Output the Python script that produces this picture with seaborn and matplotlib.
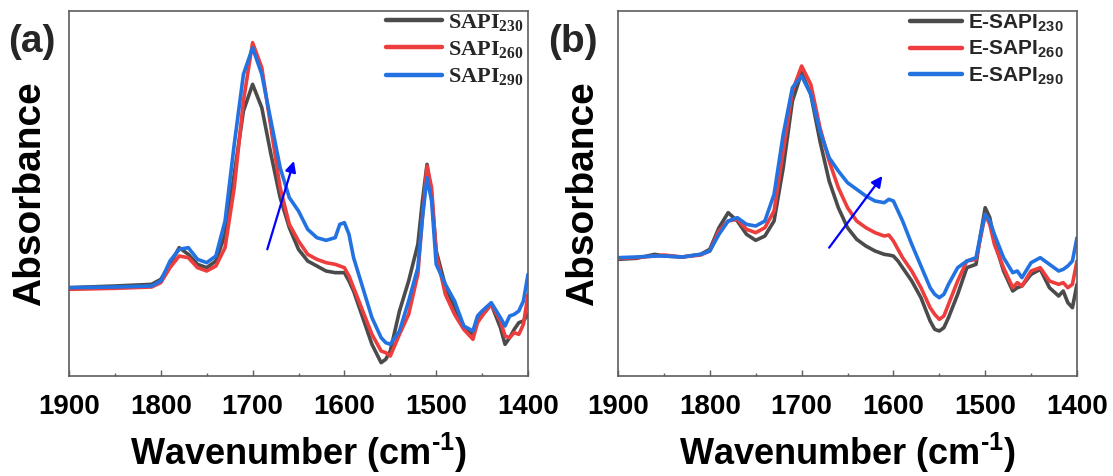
import numpy as np
import pandas as pd
import matplotlib
matplotlib.use("Agg")
import matplotlib.pyplot as plt
from matplotlib.ticker import MultipleLocator
from matplotlib.lines import Line2D
import seaborn as sns

# ---------------- data ----------------
wn_a = [1900, 1850, 1810, 1800, 1790, 1780, 1770, 1760, 1750, 1740, 1730, 1720,
        1710, 1700, 1690, 1680, 1670, 1660, 1650, 1640, 1630, 1620, 1610, 1605,
        1600, 1595, 1590, 1580, 1570, 1560, 1555, 1550, 1540, 1530, 1520, 1515,
        1510, 1505, 1500, 1490, 1480, 1470, 1460, 1455, 1450, 1440, 1430, 1425,
        1420, 1415, 1410, 1405, 1400]

sapi_230 = [26.5, 27.0, 27.5, 29.0, 33.5, 38.5, 36.5, 33.5, 32.5, 34.5, 42.5, 60.5,
            79.5, 87.5, 80.5, 66.5, 53.5, 44.5, 38.0, 34.5, 33.0, 31.5, 31.0, 31.0,
            31.0, 28.5, 25.5, 17.5, 9.5, 4.0, 5.0, 7.5, 19.5, 28.5, 39.5, 52.5,
            63.5, 54.5, 37.5, 27.0, 20.5, 15.0, 12.5, 16.5, 18.5, 21.5, 14.5, 9.5,
            11.5, 14.0, 16.0, 16.5, 18.5]

sapi_260 = [26.0, 26.3, 26.7, 28.0, 32.5, 36.0, 35.5, 32.5, 31.5, 33.0, 38.5, 56.5,
            82.5, 100.0, 92.5, 74.5, 56.5, 45.5, 40.5, 36.5, 35.0, 34.0, 33.5, 33.0,
            32.5, 30.0, 26.5, 19.5, 12.5, 7.5, 7.0, 6.0, 12.5, 18.5, 30.5, 47.5,
            63.0, 56.5, 36.5, 24.5, 18.5, 14.0, 11.0, 16.0, 18.0, 21.5, 16.5, 12.0,
            11.5, 13.0, 12.5, 15.5, 24.5]

sapi_290 = [26.5, 26.7, 27.0, 28.5, 34.5, 38.0, 38.5, 35.0, 34.0, 36.0, 46.5, 69.5,
            90.5, 98.5, 90.5, 76.5, 62.5, 53.5, 49.5, 44.0, 41.5, 40.7, 41.5, 45.5,
            46.0, 42.5, 35.5, 26.5, 17.5, 11.5, 10.0, 9.5, 13.5, 22.5, 32.5, 47.5,
            59.5, 52.5, 33.5, 27.5, 22.5, 15.0, 13.5, 18.0, 19.5, 22.0, 17.5, 15.0,
            18.0, 18.5, 19.5, 22.5, 30.5]

wn_b = [1900, 1880, 1860, 1850, 1830, 1810, 1800, 1790, 1780, 1770, 1760, 1750,
        1740, 1730, 1720, 1710, 1700, 1690, 1680, 1670, 1660, 1650, 1640, 1630,
        1620, 1610, 1605, 1600, 1595, 1590, 1580, 1570, 1560, 1555, 1550, 1545,
        1540, 1530, 1520, 1510, 1505, 1500, 1495, 1490, 1480, 1470, 1465, 1460,
        1450, 1440, 1430, 1420, 1415, 1410, 1405, 1400]

esapi_230 = [35.0, 35.3, 36.5, 36.0, 35.7, 36.5, 38.0, 44.5, 49.0, 46.5, 42.5, 40.7,
             42.0, 46.5, 62.5, 82.5, 91.0, 84.5, 70.5, 58.5, 50.5, 44.5, 41.0, 39.0,
             37.5, 36.5, 36.3, 36.0, 34.5, 32.5, 28.5, 23.5, 16.5, 14.0, 13.5, 14.5,
             17.5, 24.5, 32.5, 33.5, 42.5, 50.5, 47.5, 40.5, 31.5, 25.5, 26.5, 27.0,
             30.5, 32.0, 26.5, 24.0, 25.5, 22.0, 20.5, 27.5]

esapi_260 = [35.3, 35.5, 36.0, 36.3, 35.7, 36.3, 37.5, 43.5, 46.5, 47.0, 44.0, 43.0,
             44.5, 49.5, 67.5, 85.5, 93.0, 87.5, 74.5, 64.5, 56.5, 50.5, 46.5, 44.5,
             43.0, 42.0, 42.3, 40.5, 38.0, 35.5, 31.5, 26.5, 20.5, 18.5, 17.0, 18.0,
             21.5, 28.5, 34.5, 35.0, 41.5, 48.5, 45.5, 39.5, 32.5, 26.5, 28.0, 27.0,
             31.5, 32.5, 28.5, 27.5, 28.0, 26.5, 27.5, 34.5]

esapi_290 = [35.5, 35.7, 36.0, 36.0, 35.7, 36.5, 37.5, 42.5, 46.5, 47.5, 45.5, 45.0,
             46.5, 54.5, 72.5, 86.5, 90.0, 84.5, 73.5, 65.5, 61.5, 58.0, 56.0, 54.0,
             52.5, 52.0, 53.0, 52.5, 49.5, 46.5, 39.5, 33.0, 26.5, 24.5, 23.5, 24.5,
             27.5, 32.5, 34.5, 35.5, 42.5, 48.5, 46.5, 42.5, 35.5, 31.0, 31.5, 29.5,
             34.0, 35.5, 33.5, 31.5, 32.0, 33.0, 34.5, 41.5]

series_a = ["230", "260", "290"]
series_b = ["230", "260", "290"]

# trend arrows (wavenumber, absorbance): tail -> head
arrow_a = ((1684, 38.0), (1655, 64.5))
arrow_b = ((1670, 38.5), (1612, 60.0))

# ---------------- tidy tables ----------------
def long_table(wn, columns, names):
    frames = []
    for name, vals in zip(names, columns):
        frames.append(pd.DataFrame({"wn": wn, "abs": vals, "sample": name}))
    return pd.concat(frames, ignore_index=True)

df_a = long_table(wn_a, [sapi_230, sapi_260, sapi_290], series_a)
df_b = long_table(wn_b, [esapi_230, esapi_260, esapi_290], series_b)

colors = ["#4b4b4b", "#ee3d3d", "#2372e2"]
palette = dict(zip(series_a, colors))

sns.set_theme(style="white")
plt.rcParams["font.family"] = ["Liberation Sans", "DejaVu Sans"]
plt.rcParams["mathtext.fontset"] = "custom"
plt.rcParams["mathtext.rm"] = "Liberation Sans:bold"

fig = plt.figure(figsize=(11.13, 4.76), dpi=100)
ax_a = fig.add_axes([69 / 1113, 100 / 476, 459 / 1113, 365 / 476])
ax_b = fig.add_axes([618 / 1113, 100 / 476, 459 / 1113, 365 / 476])

spine_col = "#5e5e5e"
LW = 2.6

for ax, df in ((ax_a, df_a), (ax_b, df_b)):
    sns.lineplot(data=df, x="wn", y="abs", hue="sample", palette=palette,
                 estimator=None, sort=False, linewidth=LW, legend=False, ax=ax)
    for ln in ax.lines:
        ln.set_solid_joinstyle("round")
        ln.set_solid_capstyle("round")
    ax.set_xlim(1900, 1400)
    ax.set_ylim(0, 109.5)
    ax.xaxis.set_major_locator(MultipleLocator(100))
    ax.xaxis.set_minor_locator(MultipleLocator(50))
    ax.tick_params(axis="x", which="both", direction="in", bottom=True, top=False,
                   color=spine_col, width=1.0)
    ax.tick_params(axis="x", which="major", length=4, pad=13, labelsize=20,
                   labelcolor="black")
    ax.tick_params(axis="x", which="minor", length=2.5)
    ax.tick_params(axis="y", left=False, labelleft=False)
    for lab in ax.get_xticklabels():
        lab.set_fontweight("bold")
    for sp in ax.spines.values():
        sp.set_color(spine_col)
        sp.set_linewidth(1.2)
    ax.set_xlabel("Wavenumber (cm$^{\\mathregular{\u2010}1}$)", fontsize=26,
                  fontweight="bold", color="black")
    ax.set_ylabel("Absorbance", fontsize=28, fontweight="bold", color="black")
    ax.xaxis.set_label_coords(0.5, -0.15)

ax_a.yaxis.set_label_coords(-0.045, 0.5)
ax_b.yaxis.set_label_coords(-0.037, 0.5)

# arrows marking the growing shoulder
for ax, (tail, head) in ((ax_a, arrow_a), (ax_b, arrow_b)):
    ax.annotate("", xy=head, xytext=tail,
                arrowprops=dict(arrowstyle="-|>", color="#0000ff", lw=1.6,
                                mutation_scale=16, shrinkA=0, shrinkB=0))

# legends
handles = [Line2D([], [], color=c, lw=LW + 0.6) for c in colors]

labels_a = [r"SAPI$_{\mathregular{%s}}$" % s for s in series_a]
leg_a = ax_a.legend(handles, labels_a, loc="upper right",
                    bbox_to_anchor=((524 - 69) / 459, (376 - 12) / 365),
                    frameon=False, borderpad=0, borderaxespad=0,
                    handlelength=2.5, handletextpad=0.3, labelspacing=0.25,
                    prop=dict(family="Liberation Serif", weight="bold", size=16))

labels_b = [r"E-SAPI$_{\mathregular{%s}}$" % s for s in series_b]
leg_b = ax_b.legend(handles, labels_b, loc="upper right",
                    bbox_to_anchor=((1064 - 618) / 459, (376 - 12) / 365),
                    frameon=False, borderpad=0, borderaxespad=0,
                    handlelength=2.5, handletextpad=0.3, labelspacing=0.25,
                    prop=dict(family="Liberation Sans", weight="bold", size=15))

fig.text(8 / 1113, 1 - 42 / 476, "(a)", fontsize=28, fontweight="bold", va="center")
fig.text(548 / 1113, 1 - 42 / 476, "(b)", fontsize=28, fontweight="bold", va="center")

fig.savefig("out.png", dpi=100)
